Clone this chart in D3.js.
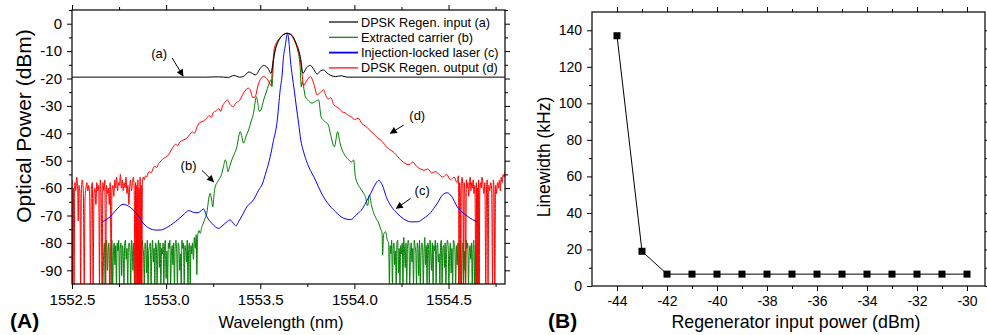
<!DOCTYPE html>
<html>
<head>
<meta charset="utf-8">
<script src="https://cdn.jsdelivr.net/npm/d3@7"></script>
<style>
  body { margin: 0; background: #fff; }
  svg { font-family: "Liberation Sans", Arial, sans-serif; }
  .curve { fill: none; stroke-width: 1; stroke-linejoin: round; }
</style>
</head>
<body>
<svg id="chart" width="987" height="335"></svg>
<script>
// ---------- panel (A): optical spectra, [wavelength nm, power dBm] ----------
var inputSpectrum = [ // (a) DPSK Regen. input
  [1552.50,-19.5],[1553.20,-19.5],[1553.28,-19.4],[1553.33,-19.6],[1553.36,-18.9],[1553.39,-19.5],
  [1553.41,-19.3],[1553.44,-17.6],[1553.475,-18.7],[1553.50,-16.3],[1553.518,-15.2],[1553.54,-16.2],
  [1553.557,-18.1],[1553.568,-14],[1553.58,-9.6],[1553.595,-6.6],[1553.606,-5.2],[1553.622,-4.1],
  [1553.642,-3.5],[1553.660,-3.8],[1553.677,-5.1],[1553.692,-7.4],[1553.704,-9.6],[1553.715,-13],
  [1553.727,-18.1],[1553.745,-16.1],[1553.766,-15.2],[1553.785,-16.8],[1553.802,-18.4],[1553.82,-17.2],
  [1553.837,-16.9],[1553.855,-18.0],[1553.872,-18.8],[1553.90,-19.3],[1553.93,-19.0],[1553.96,-19.5],
  [1554.80,-19.5]
];

var carrierSpectrum = [ // (b) Extracted carrier
  [1552.660,-87],[1552.664,-95],[1552.668,-84],[1552.672,-80],[1552.676,-95],[1552.680,-81],[1552.684,-79],
  [1552.688,-90],[1552.692,-83],[1552.696,-80],[1552.700,-95],[1552.704,-82],[1552.708,-81],[1552.712,-79],
  [1552.716,-95],[1552.720,-84],[1552.724,-80],[1552.728,-88],[1552.732,-81],[1552.736,-95],[1552.740,-80],
  [1552.744,-83],[1552.748,-79],[1552.752,-95],[1552.756,-82],[1552.760,-80],[1552.764,-92],[1552.768,-81],
  [1552.772,-84],[1552.776,-95],[1552.780,-80],[1552.784,-79],[1552.788,-86],[1552.792,-82],[1552.796,-95],
  [1552.800,-81],[1552.804,-80],[1552.808,-83],[1552.812,-95],[1552.816,-79],[1552.820,-82],[1552.824,-90],
  [1552.828,-80],[1552.832,-95],[1552.836,-84],[1552.840,-81],[1552.844,-79],[1552.848,-95],[1552.852,-83],
  [1552.856,-80],[1552.860,-88],[1552.864,-82],[1552.868,-95],[1552.872,-79],[1552.876,-81],[1552.880,-84],
  [1552.884,-95],[1552.888,-80],[1552.892,-82],[1552.896,-91],[1552.900,-79],[1552.904,-95],[1552.908,-83],
  [1552.912,-81],[1552.916,-80],[1552.920,-95],[1552.924,-84],[1552.928,-79],[1552.932,-87],[1552.936,-82],
  [1552.940,-95],[1552.944,-80],[1552.948,-81],[1552.952,-95],[1552.956,-83],[1552.960,-79],[1552.964,-89],
  [1552.968,-80],[1552.972,-95],[1552.976,-82],[1552.980,-84],[1552.984,-80],[1552.988,-95],[1552.992,-81],
  [1552.996,-79],[1553.000,-93],[1553.004,-83],[1553.008,-95],[1553.012,-80],[1553.016,-82],[1553.020,-79],
  [1553.024,-95],[1553.028,-84],[1553.032,-81],[1553.036,-88],[1553.040,-80],[1553.044,-95],[1553.048,-82],
  [1553.052,-79],[1553.056,-83],[1553.060,-95],[1553.064,-80],[1553.068,-81],[1553.072,-90],[1553.076,-84],
  [1553.080,-95],[1553.084,-79],[1553.088,-82],[1553.092,-80],[1553.096,-95],[1553.100,-81],[1553.104,-83],
  [1553.108,-87],[1553.112,-79],[1553.116,-95],[1553.120,-82],[1553.124,-80],[1553.128,-95],[1553.132,-81],
  [1553.136,-84],[1553.140,-80],[1553.145,-86],[1553.150,-78],[1553.155,-82],[1553.160,-77],[1553.163,-91.6],
  [1553.167,-78],[1553.175,-75.5],[1553.181,-76.5],[1553.19,-74],[1553.198,-72.8],[1553.207,-71],[1553.216,-69.2],
  [1553.226,-64],[1553.234,-61.9],[1553.241,-64],[1553.248,-66.8],[1553.255,-62],[1553.261,-59.5],[1553.275,-57.5],
  [1553.296,-54.6],[1553.305,-52],[1553.314,-49.7],[1553.321,-51],[1553.328,-54],[1553.338,-52],[1553.349,-49.7],
  [1553.362,-47.5],[1553.376,-44.9],[1553.386,-41],[1553.394,-39.4],[1553.403,-41.5],[1553.411,-43.6],
  [1553.425,-41],[1553.438,-38.8],[1553.452,-35.5],[1553.464,-32.7],[1553.472,-29],[1553.479,-26.6],
  [1553.488,-29.5],[1553.495,-32],[1553.504,-31.5],[1553.518,-27.8],[1553.532,-25],[1553.544,-22.4],
  [1553.557,-20.5],[1553.562,-23],[1553.572,-12],[1553.59,-7],[1553.605,-5.2],[1553.622,-4],[1553.642,-3.5],
  [1553.66,-3.9],[1553.677,-5.4],[1553.69,-7.5],[1553.70,-9.8],[1553.712,-16],[1553.718,-23],[1553.722,-21.2],
  [1553.730,-23],[1553.739,-26.6],[1553.755,-28],[1553.775,-29],[1553.790,-28.5],[1553.810,-27.8],
  [1553.823,-34],[1553.84,-35.5],[1553.862,-37],[1553.872,-40],[1553.894,-44.9],[1553.911,-39.4],
  [1553.922,-43],[1553.935,-46.1],[1553.955,-48.5],[1553.970,-49.7],[1553.985,-50.5],[1553.996,-49.7],
  [1554.005,-55.8],[1554.032,-60.1],[1554.050,-62],[1554.060,-63.5],[1554.070,-66.5],[1554.080,-62.5],
  [1554.090,-66],[1554.103,-69.2],[1554.115,-71],[1554.129,-72.8],[1554.140,-75],[1554.147,-76.5],
  [1554.150,-84.4],[1554.155,-77],[1554.165,-75.9],[1554.175,-79],[1554.182,-80.1],
  [1554.186,-95],[1554.190,-81],[1554.194,-84],[1554.198,-79],[1554.202,-95],[1554.206,-82],[1554.210,-80],
  [1554.214,-88],[1554.218,-83],[1554.222,-95],[1554.226,-80],[1554.230,-79],[1554.234,-91],[1554.238,-82],
  [1554.242,-95],[1554.246,-81],[1554.250,-84],[1554.254,-80],[1554.258,-95],[1554.262,-78],[1554.266,-83],
  [1554.270,-89],[1554.274,-80],[1554.278,-95],[1554.282,-82],[1554.286,-79],[1554.290,-81],[1554.294,-95],
  [1554.298,-84],[1554.302,-80],[1554.306,-87],[1554.310,-82],[1554.314,-95],[1554.318,-79],[1554.322,-81],
  [1554.326,-83],[1554.330,-95],[1554.334,-80],[1554.338,-82],[1554.342,-92],[1554.346,-79],[1554.350,-95],
  [1554.354,-84],[1554.358,-80],[1554.362,-81],[1554.366,-95],[1554.370,-83],[1554.374,-78],[1554.378,-88],
  [1554.382,-81],[1554.386,-95],[1554.390,-80],[1554.394,-82],[1554.398,-95],[1554.402,-79],[1554.406,-84],
  [1554.410,-90],[1554.414,-80],[1554.418,-95],[1554.422,-81],[1554.426,-83],[1554.430,-79],[1554.434,-95],
  [1554.438,-82],[1554.442,-80],[1554.446,-87],[1554.450,-84],[1554.454,-95],[1554.458,-80],[1554.462,-79],
  [1554.466,-95],[1554.470,-82],[1554.474,-81],[1554.478,-89],[1554.482,-80],[1554.486,-95],[1554.490,-83],
  [1554.494,-79],[1554.498,-81],[1554.502,-95],[1554.506,-84],[1554.510,-80],[1554.514,-91],[1554.518,-82],
  [1554.522,-95],[1554.526,-79],[1554.530,-80],[1554.534,-83],[1554.538,-95],[1554.542,-81],[1554.546,-88],
  [1554.550,-80],[1554.554,-95],[1554.558,-82],[1554.562,-79],[1554.566,-84],[1554.570,-95],[1554.574,-80],
  [1554.578,-81],[1554.582,-90],[1554.586,-83],[1554.590,-95],[1554.594,-79],[1554.598,-82],[1554.602,-80],
  [1554.606,-95],[1554.610,-84],[1554.614,-81],[1554.618,-86],[1554.622,-80],[1554.626,-95],[1554.630,-82],
  [1554.634,-79],[1554.638,-95],[1554.642,-81],[1554.646,-83],[1554.650,-95],[1554.654,-80],[1554.658,-95]
];

var lockedSpectrum = [ // (c) Injection-locked laser
  [1552.661,-72.3],[1552.702,-70.5],[1552.734,-68],[1552.771,-65.9],[1552.809,-67],[1552.846,-69.5],
  [1552.887,-73.5],[1552.915,-74.8],[1552.940,-75.3],[1552.968,-75.3],[1553.011,-74.1],[1553.064,-71.4],
  [1553.096,-69.5],[1553.119,-68.2],[1553.144,-68.8],[1553.170,-69],[1553.198,-67.6],[1553.216,-70.4],
  [1553.245,-73],[1553.278,-74.7],[1553.303,-73.5],[1553.323,-72.3],[1553.340,-71.6],[1553.356,-72.8],
  [1553.372,-73.8],[1553.383,-72.5],[1553.404,-70],[1553.429,-66.8],[1553.464,-64.3],[1553.491,-60.8],
  [1553.511,-58.5],[1553.527,-55],[1553.553,-48.5],[1553.569,-43],[1553.589,-36],[1553.606,-24],
  [1553.617,-18],[1553.622,-13.2],[1553.633,-8],[1553.645,-3.5],[1553.654,-8],[1553.660,-13.2],
  [1553.670,-19],[1553.681,-24.5],[1553.691,-30],[1553.704,-36.5],[1553.715,-42.4],[1553.729,-46.5],
  [1553.745,-50],[1553.766,-53.5],[1553.784,-55.8],[1553.809,-59.5],[1553.830,-62.5],[1553.855,-65.2],
  [1553.899,-68.6],[1553.943,-71],[1553.979,-71.5],[1554.014,-69.5],[1554.043,-67.5],[1554.068,-64.3],
  [1554.090,-61.5],[1554.112,-58.5],[1554.129,-57.2],[1554.144,-58.3],[1554.174,-64],[1554.197,-66.8],
  [1554.227,-69.2],[1554.261,-71.2],[1554.298,-72.3],[1554.335,-72.3],[1554.369,-71],[1554.404,-69],
  [1554.440,-65.6],[1554.468,-62.5],[1554.493,-61.7],[1554.516,-63],[1554.546,-66.8],[1554.573,-68.8],
  [1554.599,-70.2],[1554.628,-71.5],[1554.653,-72.3]
];

var outputSpectrum = [ // (d) DPSK Regen. output
  [1552.500,-57],[1552.503,-95],[1552.507,-60],[1552.511,-95],[1552.515,-58],[1552.520,-61],[1552.525,-56],
  [1552.530,-60],[1552.533,-72],[1552.537,-59],[1552.542,-62],[1552.546,-95],[1552.550,-60],[1552.555,-57],
  [1552.560,-61],[1552.565,-95],[1552.569,-64],[1552.574,-60],[1552.579,-58],[1552.584,-61],[1552.589,-59],
  [1552.594,-63],[1552.598,-95],[1552.603,-60],[1552.608,-58],[1552.612,-95],[1552.617,-62],[1552.622,-60],
  [1552.627,-66],[1552.632,-58],[1552.637,-61],[1552.642,-59],[1552.646,-95],[1552.650,-57],[1552.655,-63],
  [1552.660,-95],[1552.664,-58],[1552.669,-61],[1552.674,-57],[1552.679,-95],[1552.683,-59],[1552.688,-62],
  [1552.693,-60],[1552.698,-66],[1552.703,-58],[1552.708,-95],[1552.712,-61],[1552.717,-59],[1552.722,-63],
  [1552.727,-57],[1552.732,-60],[1552.737,-56],[1552.742,-61],[1552.747,-58],[1552.752,-59],[1552.757,-55],
  [1552.762,-60],[1552.767,-57],[1552.772,-61],[1552.777,-58],[1552.782,-60],[1552.787,-56],[1552.792,-62],
  [1552.797,-59],[1552.802,-66],[1552.806,-60],[1552.811,-57],[1552.816,-61],[1552.821,-58],[1552.826,-56],
  [1552.830,-60],[1552.835,-95],[1552.838,-58],[1552.841,-95],[1552.844,-59],[1552.847,-95],[1552.850,-57],
  [1552.853,-95],[1552.856,-60],[1552.859,-95],[1552.862,-56],[1552.865,-95],[1552.868,-59],[1552.871,-95],
  [1552.874,-58],[1552.878,-56],[1552.884,-57],[1552.890,-55.5],[1552.897,-56],[1552.904,-54.5],
  [1552.912,-54],[1552.920,-54.5],[1552.930,-53],[1552.940,-52],[1552.950,-52.5],[1552.960,-51],
  [1552.968,-50.5],[1552.98,-49.5],[1552.99,-49],[1553.004,-48.5],[1553.02,-47],[1553.037,-45],
  [1553.05,-44],[1553.06,-44.5],[1553.075,-43],[1553.09,-42.5],[1553.11,-41.8],[1553.125,-40.5],
  [1553.14,-39.5],[1553.15,-40],[1553.165,-37.5],[1553.18,-36],[1553.20,-35.5],[1553.215,-34.5],
  [1553.23,-33.5],[1553.24,-34.2],[1553.25,-32.5],[1553.265,-31.8],[1553.28,-31],[1553.29,-32],
  [1553.30,-30],[1553.315,-28.5],[1553.325,-27.8],[1553.34,-29.5],[1553.357,-30.3],[1553.37,-29],
  [1553.39,-28],[1553.41,-25.5],[1553.436,-23.5],[1553.447,-24.2],[1553.46,-27],[1553.473,-26.6],
  [1553.49,-22],[1553.518,-19.3],[1553.54,-20.5],[1553.557,-22.5],[1553.565,-16],[1553.575,-9],
  [1553.59,-6.5],[1553.605,-5.2],[1553.622,-4],[1553.642,-3.5],[1553.66,-3.9],[1553.677,-5.4],
  [1553.69,-7.5],[1553.70,-9.8],[1553.71,-12],[1553.72,-17],[1553.73,-22.5],[1553.745,-21],
  [1553.766,-19.3],[1553.785,-22],[1553.802,-26],[1553.82,-25],[1553.837,-24.2],[1553.85,-26.5],
  [1553.862,-27.5],[1553.875,-27],[1553.89,-29.5],[1553.904,-30.3],[1553.92,-31],[1553.935,-32.2],
  [1553.95,-32.5],[1553.968,-33.5],[1553.985,-34],[1554.00,-35],[1554.021,-34.5],[1554.04,-36.5],
  [1554.05,-37],[1554.07,-38],[1554.09,-39.5],[1554.10,-40],[1554.12,-41.5],[1554.14,-42.5],
  [1554.16,-44],[1554.17,-45],[1554.19,-46],[1554.21,-47],[1554.23,-48.5],[1554.25,-50],[1554.27,-51],
  [1554.29,-51.5],[1554.31,-50.5],[1554.33,-52],[1554.35,-53],[1554.37,-53.5],[1554.39,-53],
  [1554.41,-54.5],[1554.43,-54],[1554.45,-55],[1554.47,-56],[1554.49,-55],[1554.51,-57],[1554.53,-56],
  [1554.545,-58],[1554.553,-55.5],[1554.556,-95],[1554.559,-58],[1554.562,-61],[1554.565,-95],
  [1554.568,-59],[1554.572,-56],[1554.576,-60],[1554.580,-95],[1554.583,-58],[1554.587,-62],[1554.591,-95],
  [1554.595,-57],[1554.599,-60],[1554.603,-58],[1554.607,-63],[1554.611,-59],[1554.615,-56],[1554.619,-61],
  [1554.623,-58],[1554.627,-60],[1554.631,-57],[1554.635,-62],[1554.640,-59],[1554.645,-95],[1554.648,-58],
  [1554.651,-95],[1554.654,-60],[1554.657,-95],[1554.660,-57],[1554.663,-95],[1554.666,-61],[1554.670,-58],
  [1554.674,-60],[1554.678,-56],[1554.683,-59],[1554.688,-62],[1554.693,-58],[1554.698,-95],[1554.702,-60],
  [1554.706,-57],[1554.710,-95],[1554.714,-59],[1554.719,-61],[1554.724,-58],[1554.729,-60],[1554.734,-95],
  [1554.738,-57],[1554.742,-61],[1554.746,-95],[1554.750,-59],[1554.755,-62],[1554.760,-58],[1554.765,-60],
  [1554.770,-57],[1554.775,-61],[1554.780,-56],[1554.785,-58],[1554.790,-55],[1554.795,-56],[1554.800,-54]
];

var legendNames = ["DPSK Regen. input (a)", "Extracted carrier (b)", "Injection-locked laser (c)", "DPSK Regen. output (d)"];
var legendColors = ["#000000", "#008000", "#0000ff", "#ff0000"];

var waveTicks = [1552.5, 1553.0, 1553.5, 1554.0, 1554.5];
var waveMinor = [1552.75, 1553.25, 1553.75, 1554.25, 1554.75];
var dbmTicks = [0, -10, -20, -30, -40, -50, -60, -70, -80, -90];
var dbmMinor = [5, -5, -15, -25, -35, -45, -55, -65, -75, -85];

// notes: label, label position, arrow start, arrow end (nm, dBm)
var notes = [
  ["(a)", [1552.963, -10.7], [1553.032, -12.5], [1553.090, -19.1]],
  ["(b)", [1553.119, -51.6], [1553.190, -53.5], [1553.252, -57.7]],
  ["(c)", [1554.360, -60.8], [1554.298, -63.8], [1554.223, -67.4]],
  ["(d)", [1554.334, -33.4], [1554.262, -37.0], [1554.191, -40.0]]
];

// ---------- panel (B): linewidth vs regenerator input power ----------
var inputPower = [-44, -43, -42, -41, -40, -39, -38, -37, -36, -35, -34, -33, -32, -31, -30];
var linewidth = [137, 19, 6.5, 6.5, 6.5, 6.5, 6.5, 6.5, 6.5, 6.5, 6.5, 6.5, 6.5, 6.5, 6.5];
var powerTicks = [-44, -42, -40, -38, -36, -34, -32, -30];
var powerMinor = [-43, -41, -39, -37, -35, -33, -31];
var lwTicks = [0, 20, 40, 60, 80, 100, 120, 140];
var lwMinor = [10, 30, 50, 70, 90, 110, 130];

var svg = d3.select("#chart");

// arrow head
svg.append("defs").append("marker")
    .attr("id", "head")
    .attr("viewBox", "0 0 10 10")
    .attr("refX", 9).attr("refY", 5)
    .attr("markerWidth", 8).attr("markerHeight", 7)
    .attr("markerUnits", "userSpaceOnUse")
    .attr("orient", "auto")
  .append("path")
    .attr("d", "M0,0L10,5L0,10z")
    .attr("fill", "#000");

// framed axes with ticks pointing out on all four sides
function frame(g, x, y, w, h, xt, xm, yt, ym, xfmt, yfmt, fs) {
  function put(axis, vals, size, fmt, tr) {
    var a = g.append("g")
      .attr("transform", tr)
      .call(axis.tickValues(vals).tickSize(size).tickSizeOuter(0).tickPadding(5).tickFormat(fmt));
    a.select(".domain").remove();
    a.attr("font-size", fs).attr("font-family", null);
    a.selectAll("line").attr("stroke", "#000");
    a.selectAll("text").attr("fill", "#000");
  }
  var none = function() { return ""; };
  put(d3.axisBottom(x), xt, 5, xfmt, "translate(0," + h + ")");
  put(d3.axisBottom(x), xm, 3, none, "translate(0," + h + ")");
  put(d3.axisTop(x), xt, 5, none, null);
  put(d3.axisTop(x), xm, 3, none, null);
  put(d3.axisLeft(y), yt, 5, yfmt, null);
  put(d3.axisLeft(y), ym, 3, none, null);
  put(d3.axisRight(y), yt, 5, none, "translate(" + w + ",0)");
  put(d3.axisRight(y), ym, 3, none, "translate(" + w + ",0)");
  g.append("rect")
    .attr("width", w).attr("height", h)
    .attr("fill", "none").attr("stroke", "#000").attr("stroke-width", 1.2);
}

// ---------- (A) ----------
var aL = 72, aT = 10, aW = 433, aH = 274;
var xA = d3.scaleLinear().domain([1552.5, 1554.8]).range([0, aW]);
var yA = d3.scaleLinear().domain([-95, 5]).range([aH, 0]);
var gA = svg.append("g").attr("transform", "translate(" + aL + "," + aT + ")");

gA.append("clipPath").attr("id", "clipA")
  .append("rect").attr("width", aW).attr("height", aH);

var lineA = d3.line()
  .x(function(d) { return xA(d[0]); })
  .y(function(d) { return yA(d[1]); })
  .curve(d3.curveMonotoneX);

var plotA = gA.append("g").attr("clip-path", "url(#clipA)");
[[carrierSpectrum, "#008000"], [outputSpectrum, "#ff0000"], [inputSpectrum, "#000000"], [lockedSpectrum, "#0000ff"]]
  .forEach(function(s) {
    plotA.append("path").attr("class", "curve")
      .attr("d", lineA(s[0])).attr("stroke", s[1]);
  });

frame(gA, xA, yA, aW, aH, waveTicks, waveMinor, dbmTicks, dbmMinor,
  function(d) { return d.toFixed(1); }, function(d) { return String(d); }, 15);

// legend
var leg = gA.selectAll(".leg").data(legendNames).enter().append("g")
  .attr("transform", function(d, i) { return "translate(257," + (12 + i * 15.3) + ")"; });
leg.append("line").attr("x1", 0).attr("x2", 29).attr("y1", 0).attr("y2", 0)
  .attr("stroke", function(d, i) { return legendColors[i]; })
  .attr("stroke-width", function(d, i) { return i == 2 ? 1.8 : 1.2; });
leg.append("text").attr("x", 32).attr("y", 4.5)
  .attr("font-size", 12.7).text(function(d) { return d; });

// annotations
notes.forEach(function(n) {
  gA.append("text").attr("x", xA(n[1][0])).attr("y", yA(n[1][1]) + 4.5)
    .attr("text-anchor", "middle").attr("font-size", 13).text(n[0]);
  gA.append("line")
    .attr("x1", xA(n[2][0])).attr("y1", yA(n[2][1]))
    .attr("x2", xA(n[3][0])).attr("y2", yA(n[3][1]))
    .attr("stroke", "#000").attr("stroke-width", 1)
    .attr("marker-end", "url(#head)");
});

svg.append("text")
  .attr("transform", "translate(31,126) rotate(-90)")
  .attr("text-anchor", "middle").attr("font-size", 21)
  .text("Optical Power (dBm)");
svg.append("text").attr("x", 281).attr("y", 328)
  .attr("text-anchor", "middle").attr("font-size", 16.5)
  .text("Wavelength (nm)");
svg.append("text").attr("x", 10).attr("y", 328)
  .attr("font-size", 21).attr("font-weight", "bold").text("(A)");

// ---------- (B) ----------
var bL = 592, bT = 12, bW = 393, bH = 274;
var xB = d3.scaleLinear().domain([-45, -29.28]).range([0, bW]);
var yB = d3.scaleLinear().domain([0, 150]).range([bH, 0]);
var gB = svg.append("g").attr("transform", "translate(" + bL + "," + bT + ")");

frame(gB, xB, yB, bW, bH, powerTicks, powerMinor, lwTicks, lwMinor,
  function(d) { return String(d); }, function(d) { return String(d); }, 14);

var pts = inputPower.map(function(p, i) { return [p, linewidth[i]]; });
gB.append("path").attr("class", "curve")
  .attr("stroke", "#000")
  .attr("d", d3.line().x(function(d) { return xB(d[0]); }).y(function(d) { return yB(d[1]); })(pts));
gB.selectAll(".sq").data(pts).enter().append("rect")
  .attr("x", function(d) { return xB(d[0]) - 3.5; })
  .attr("y", function(d) { return yB(d[1]) - 3.5; })
  .attr("width", 7).attr("height", 7).attr("fill", "#000");

svg.append("text")
  .attr("transform", "translate(550,157) rotate(-90)")
  .attr("text-anchor", "middle").attr("font-size", 17.5)
  .text("Linewidth (kHz)");
svg.append("text").attr("x", 796).attr("y", 328)
  .attr("text-anchor", "middle").attr("font-size", 17.8)
  .text("Regenerator input power (dBm)");
svg.append("text").attr("x", 548).attr("y", 328)
  .attr("font-size", 21).attr("font-weight", "bold").text("(B)");
</script>
</body>
</html>
